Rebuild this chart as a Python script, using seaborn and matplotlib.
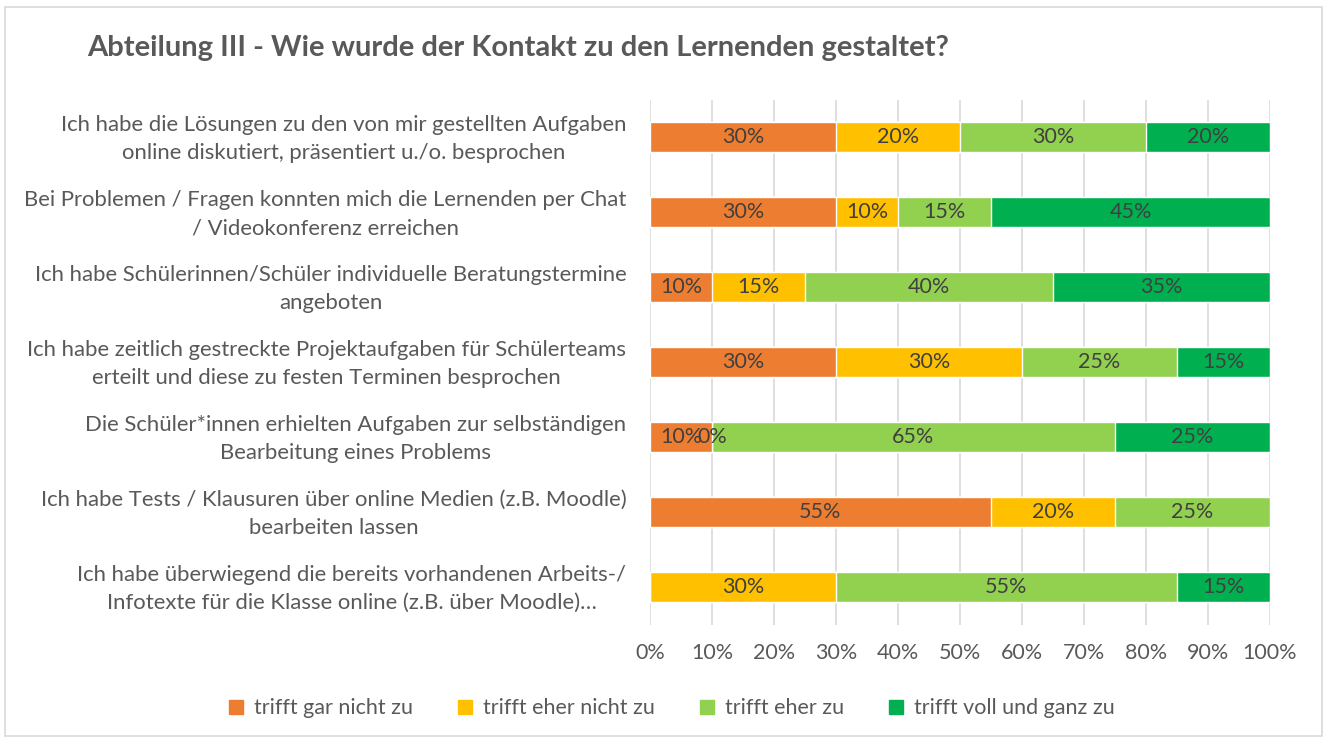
import numpy as np
import pandas as pd
import matplotlib
matplotlib.use("Agg")
import matplotlib.pyplot as plt
import matplotlib.transforms as mtransforms
import seaborn as sns
from matplotlib.patches import Rectangle
from matplotlib.lines import Line2D

categories = [
    "Ich habe die Lösungen zu den von mir gestellten Aufgaben\nonline diskutiert, präsentiert u./o. besprochen",
    "Bei Problemen / Fragen konnten mich die Lernenden per Chat\n/ Videokonferenz erreichen",
    "Ich habe Schülerinnen/Schüler individuelle Beratungstermine\nangeboten",
    "Ich habe zeitlich gestreckte Projektaufgaben für Schülerteams\nerteilt und diese zu festen Terminen besprochen",
    "Die Schüler*innen erhielten Aufgaben zur selbständigen\nBearbeitung eines Problems",
    "Ich habe Tests / Klausuren über online Medien (z.B. Moodle)\nbearbeiten lassen",
    "Ich habe überwiegend die bereits vorhandenen Arbeits-/\nInfotexte für die Klasse online (z.B. über Moodle)…",
]
series_names = ["trifft gar nicht zu", "trifft eher nicht zu", "trifft eher zu", "trifft voll und ganz zu"]
gar_nicht = [30, 30, 10, 30, 10, 55, np.nan]
eher_nicht = [20, 10, 15, 30, 0, 20, 30]
eher = [30, 15, 40, 25, 65, 25, 55]
voll = [20, 45, 35, 15, 25, np.nan, 15]
x_ticks = [0, 10, 20, 30, 40, 50, 60, 70, 80, 90, 100]
colors = ["#ED7D31", "#FFC000", "#92D050", "#00B050"]

sns.set_theme(style="white")
plt.rcParams["font.family"] = ["Lato", "DejaVu Sans"]
TXT = "#595959"

vals = np.array([gar_nicht, eher_nicht, eher, voll], dtype=float)
filled = np.nan_to_num(vals)
cums = np.cumsum(filled, axis=0)

fig = plt.figure(figsize=(13.27, 7.40), dpi=100)
fig.patches.append(Rectangle((0.004, 0.006), 0.992, 0.985, transform=fig.transFigure,
                             fill=False, edgecolor="#D9D9D9", linewidth=1.2))
ax = fig.add_axes([0.4898, 0.156, 0.4672, 0.7095])

for i in range(3, -1, -1):
    df = pd.DataFrame({"cat": categories, "val": cums[i]})
    sns.barplot(data=df, x="val", y="cat", orient="h", color=colors[i],
                saturation=1, width=0.4, ax=ax, zorder=2)

ax.set_xlim(0, 100)
ax.set_ylim(6.5, -0.5)
ax.set_xticks(x_ticks)
ax.set_xticklabels([f"{t}%" for t in x_ticks])
ax.set_xlabel("")
ax.set_ylabel("")
for s in ax.spines.values():
    s.set_visible(False)
ax.grid(axis="x", color="#D9D9D9", linewidth=1.2, zorder=0)
ax.set_axisbelow(True)
ax.tick_params(axis="x", length=0, pad=13, labelsize=15.5, labelcolor=TXT)
ax.tick_params(axis="y", length=0, pad=17, labelsize=15.9, labelcolor=TXT)
shift = mtransforms.ScaledTranslation(0, 4 / 100, fig.dpi_scale_trans)
for lab in ax.get_yticklabels():
    lab.set_multialignment("center")
    lab.set_linespacing(1.5)
    lab.set_transform(lab.get_transform() + shift)

for i in range(4):
    for r in range(len(categories)):
        v = vals[i, r]
        if np.isnan(v):
            continue
        center = cums[i, r] - filled[i, r] / 2
        ax.text(center, r, f"{int(v)}%", ha="center", va="center",
                fontsize=15.5, color="#404040", zorder=5)

fig.text(0.066, 0.935, "Abteilung III - Wie wurde der Kontakt zu den Lernenden gestaltet?",
         fontsize=21, fontweight="bold", color=TXT, ha="left", va="center")

handles = [Line2D([], [], marker="s", linestyle="", markersize=10,
                  markerfacecolor=c, markeredgecolor=c) for c in colors]
fig.legend(handles, series_names, loc="center", bbox_to_anchor=(0.505, 0.043), ncol=4,
           frameon=False, fontsize=15.5, labelcolor=TXT, handletextpad=0.35,
           columnspacing=1.9, handlelength=1.0)

fig.savefig("out.png", dpi=100)
